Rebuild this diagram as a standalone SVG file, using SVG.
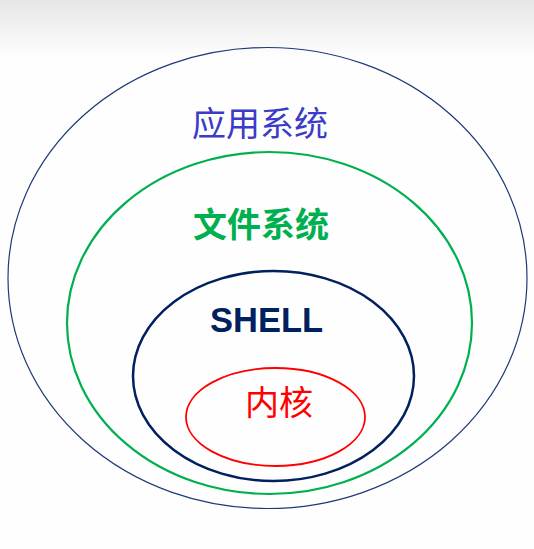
<svg xmlns="http://www.w3.org/2000/svg" width="534" height="549" viewBox="0 0 534 549">
<defs>
<linearGradient id="bg" x1="0" y1="0" x2="0" y2="1">
<stop offset="0" stop-color="#e6e6e6"/>
<stop offset="1" stop-color="#ffffff"/>
</linearGradient>
<style>
.cjk{font-family:"Noto Sans CJK SC","Noto Sans",sans-serif;font-size:34px;text-anchor:middle}
.e{fill:none}
</style>
</defs>
<rect width="534" height="549" fill="#fefefe"/>
<rect width="534" height="60" fill="url(#bg)"/>
<g id="app">
<ellipse class="e" cx="267.5" cy="278" rx="259.5" ry="230.5" stroke="#1f3a78" stroke-width="1.2"/>
<text class="cjk" x="260" y="136" fill="#3b3bc8">应用系统</text>
</g>
<g id="fs">
<ellipse class="e" cx="269.5" cy="323" rx="202.5" ry="171" stroke="#00b050" stroke-width="2.2"/>
<text class="cjk" x="261" y="237" fill="#00b050" font-weight="bold">文件系统</text>
</g>
<g id="shell">
<ellipse class="e" cx="273.5" cy="376" rx="140.5" ry="105" stroke="#002060" stroke-width="2.5"/>
<text x="266.5" y="332" fill="#002060" font-family="Liberation Sans, Arial, sans-serif" font-weight="bold" font-size="34.5" text-anchor="middle">SHELL</text>
</g>
<g id="kernel">
<ellipse class="e" cx="275.5" cy="417" rx="89.5" ry="49" stroke="#ff0000" stroke-width="1.8"/>
<text class="cjk" x="279" y="415" fill="#ff0000" font-size="33">内核</text>
</g>
<g id="connectors"/>
</svg>
